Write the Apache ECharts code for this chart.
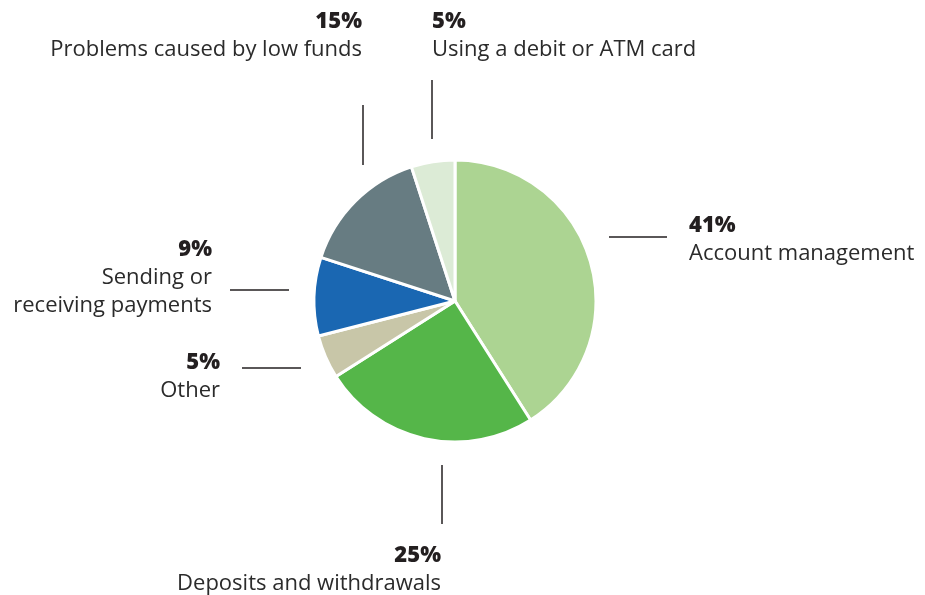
<!DOCTYPE html>
<html><head><meta charset="utf-8">
<script src="https://cdn.jsdelivr.net/npm/echarts@6/dist/echarts.min.js"></script>
<style>html,body{margin:0;padding:0;background:#fff}#c{width:925px;height:595px}</style>
</head><body><div id="c"></div>
<script>
const categories = ['Account management','Deposits and withdrawals','Other','Sending or\nreceiving payments','Problems caused by low funds','Using a debit or ATM card'];
const values = [41,25,5,9,15,5];
const colors = ['#acd492','#55b649','#c8c6a8','#1a67b2','#677c82','#dcebd6'];

// label anchors (layout only): [x, y of percent line, align]
const labelPos = [
  [689, 226, 'left'],
  [441, 556, 'right'],
  [220, 363, 'right'],
  [212, 250, 'right'],
  [362, 22, 'right'],
  [432, 22, 'left']
];
// leader lines (layout only): [x1,y1,x2,y2]
const leaders = [
  [609,237,667,237],
  [442,465,442,524],
  [242,368,301,368],
  [230,290,289,290],
  [363,105,363,165],
  [432,80,432,139]
];

const FONT = '"Open Sans"';
const graphic = [];
categories.forEach((name,i)=>{
  const [x,y,align] = labelPos[i];
  graphic.push({type:'text', x:x, y:y, style:{text:values[i]+'%', font:'800 22px '+FONT, fill:'#231f20', textAlign:align, textVerticalAlign:'middle'}});
  name.split('\n').forEach((ln,j)=>{
    graphic.push({type:'text', x:x, y:y+28+28*j, style:{text:ln, font:'400 22px '+FONT, fill:'#2b2b2b', textAlign:align, textVerticalAlign:'middle'}});
  });
  const l = leaders[i];
  graphic.push({type:'line', shape:{x1:l[0],y1:l[1],x2:l[2],y2:l[3]}, style:{stroke:'#231f20', lineWidth:1.5}});
});

const chart = echarts.init(document.getElementById('c'), null, {renderer:'canvas'});
chart.setOption({
  animation:false,
  series:[{
    type:'pie',
    center:[455,301],
    radius:[0,141],
    startAngle:90,
    clockwise:true,
    label:{show:false},
    labelLine:{show:false},
    itemStyle:{borderColor:'#fff', borderWidth:3},
    emphasis:{disabled:true},
    data: categories.map((n,i)=>({name:n, value:values[i], itemStyle:{color:colors[i]}}))
  }],
  graphic: graphic
});
</script></body></html>
